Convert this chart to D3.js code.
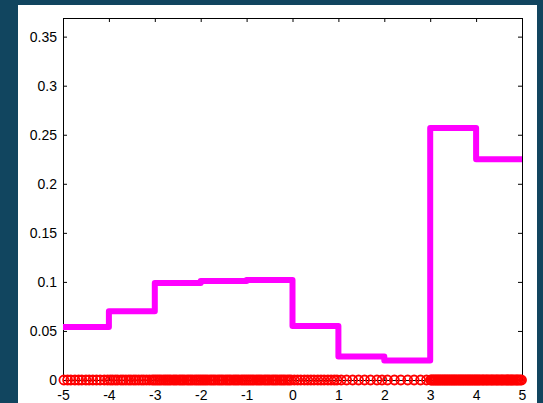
<!DOCTYPE html>
<html>
<head>
<meta charset="utf-8">
<script src="https://cdnjs.cloudflare.com/ajax/libs/d3/7.8.5/d3.min.js"></script>
<style>
  body { margin: 0; background: #11455f; }
  svg { display: block; }
</style>
</head>
<body>
<script>
// bin edges and step heights (density estimate)
var binEdges = [-5, -4, -3, -2, -1, 0, 1, 2, 3, 4, 5];
var binHeights = [0.054, 0.070, 0.099, 0.101, 0.102, 0.055, 0.024, 0.020, 0.257, 0.225];

// sample points drawn on the x axis
var samples = [
  -4.98, -4.90, -4.83, -4.74, -4.66, -4.59, -4.50, -4.43, -4.35, -4.27, -4.19, -4.10, -4.03,
  -3.97, -3.92, -3.86, -3.81, -3.74, -3.69, -3.63, -3.57, -3.52, -3.46, -3.41, -3.35, -3.29, -3.24, -3.18, -3.12, -3.06, -3.02,
  -2.98, -2.94, -2.90, -2.86, -2.81, -2.77, -2.73, -2.69, -2.65, -2.60, -2.56, -2.52, -2.47, -2.43, -2.39, -2.35, -2.30, -2.26, -2.22, -2.18, -2.13, -2.09, -2.05, -2.01,
  -1.97, -1.93, -1.89, -1.85, -1.80, -1.76, -1.72, -1.68, -1.63, -1.59, -1.55, -1.51, -1.46, -1.42, -1.38, -1.34, -1.29, -1.25, -1.21, -1.17, -1.12, -1.08, -1.04, -1.00,
  -0.96, -0.92, -0.88, -0.84, -0.79, -0.75, -0.71, -0.67, -0.62, -0.58, -0.54, -0.50, -0.45, -0.41, -0.37, -0.33, -0.28, -0.24, -0.20, -0.16, -0.11, -0.07, -0.03,
  0.04, 0.11, 0.18, 0.26, 0.33, 0.40, 0.47, 0.55, 0.62, 0.69, 0.77, 0.84, 0.91, 0.97,
  1.06, 1.18, 1.31, 1.44, 1.57, 1.70, 1.84, 1.95,
  2.07, 2.22, 2.36, 2.51, 2.65, 2.79, 2.92,
  3.01, 3.03, 3.06, 3.08, 3.11, 3.13, 3.16, 3.18, 3.21, 3.23, 3.26, 3.28, 3.31, 3.33, 3.36, 3.38, 3.41, 3.43, 3.46, 3.48,
  3.51, 3.53, 3.56, 3.58, 3.61, 3.63, 3.66, 3.68, 3.71, 3.73, 3.76, 3.78, 3.81, 3.83, 3.86, 3.88, 3.91, 3.93, 3.96, 3.98,
  4.01, 4.03, 4.06, 4.08, 4.11, 4.14, 4.16, 4.19, 4.22, 4.24, 4.27, 4.30, 4.33, 4.35, 4.38, 4.41, 4.44, 4.46, 4.49,
  4.52, 4.55, 4.57, 4.60, 4.63, 4.66, 4.68, 4.71, 4.74, 4.77, 4.79, 4.82, 4.85, 4.88, 4.90, 4.93, 4.96, 4.99
];

var xTicks = [-5, -4, -3, -2, -1, 0, 1, 2, 3, 4, 5];
var yTicks = [0, 0.05, 0.1, 0.15, 0.2, 0.25, 0.3, 0.35];

var W = 543, H = 403;
var margin = {top: 18, right: 21, bottom: 23, left: 63};

var svg = d3.select("body").append("svg")
   .attr("width", W)
   .attr("height", H);

// white figure panel
svg.append("rect")
   .attr("x", 18).attr("y", 5)
   .attr("width", 519).attr("height", H - 5)
   .attr("fill", "#fff");

var x = d3.scaleLinear().domain([-5, 5]).range([margin.left, W - margin.right]);
var y = d3.scaleLinear().domain([0, 0.369]).range([H - margin.bottom, margin.top]);

var fmt = function(d) { return String(+d.toFixed(2)); };

// axes, ticks inward like matlab
function styleAxis(g) {
   g.select(".domain").attr("stroke", "#000").attr("stroke-width", 1);
   g.selectAll(".tick line").attr("stroke", "#000");
   g.selectAll(".tick text")
      .attr("fill", "#000")
      .style("font-family", "'Liberation Sans', Arial, sans-serif")
      .style("font-size", "14px");
}

svg.append("g")
   .attr("transform", "translate(0," + y(0) + ")")
   .call(d3.axisBottom(x).tickValues(xTicks).tickSize(-4).tickPadding(10).tickFormat(fmt).tickSizeOuter(0))
   .call(styleAxis);

svg.append("g")
   .attr("transform", "translate(0," + margin.top + ")")
   .call(d3.axisTop(x).tickValues(xTicks).tickSize(-4).tickFormat("").tickSizeOuter(0))
   .call(styleAxis);

svg.append("g")
   .attr("transform", "translate(" + margin.left + ",0)")
   .call(d3.axisLeft(y).tickValues(yTicks).tickSize(-4).tickPadding(6).tickFormat(fmt).tickSizeOuter(0))
   .call(styleAxis);

svg.append("g")
   .attr("transform", "translate(" + (W - margin.right) + ",0)")
   .call(d3.axisRight(y).tickValues(yTicks).tickSize(-4).tickFormat("").tickSizeOuter(0))
   .call(styleAxis);

// sample circles at y = 0
svg.append("g").selectAll("circle")
   .data(samples)
   .enter().append("circle")
   .attr("cx", function(d) { return x(d); })
   .attr("cy", y(0))
   .attr("r", 4.5)
   .attr("fill", "none")
   .attr("stroke", "#ff0000")
   .attr("stroke-width", 1.8);

// step line
var steps = binHeights.map(function(h, i) { return [binEdges[i], h]; });
steps.push([binEdges[binEdges.length - 1], binHeights[binHeights.length - 1]]);

svg.append("path")
   .datum(steps)
   .attr("d", d3.line()
      .x(function(d) { return x(d[0]); })
      .y(function(d) { return y(d[1]); })
      .curve(d3.curveStepAfter))
   .attr("fill", "none")
   .attr("stroke", "#ff00ff")
   .attr("stroke-width", 6)
   .attr("stroke-linejoin", "round");
</script>
</body>
</html>
